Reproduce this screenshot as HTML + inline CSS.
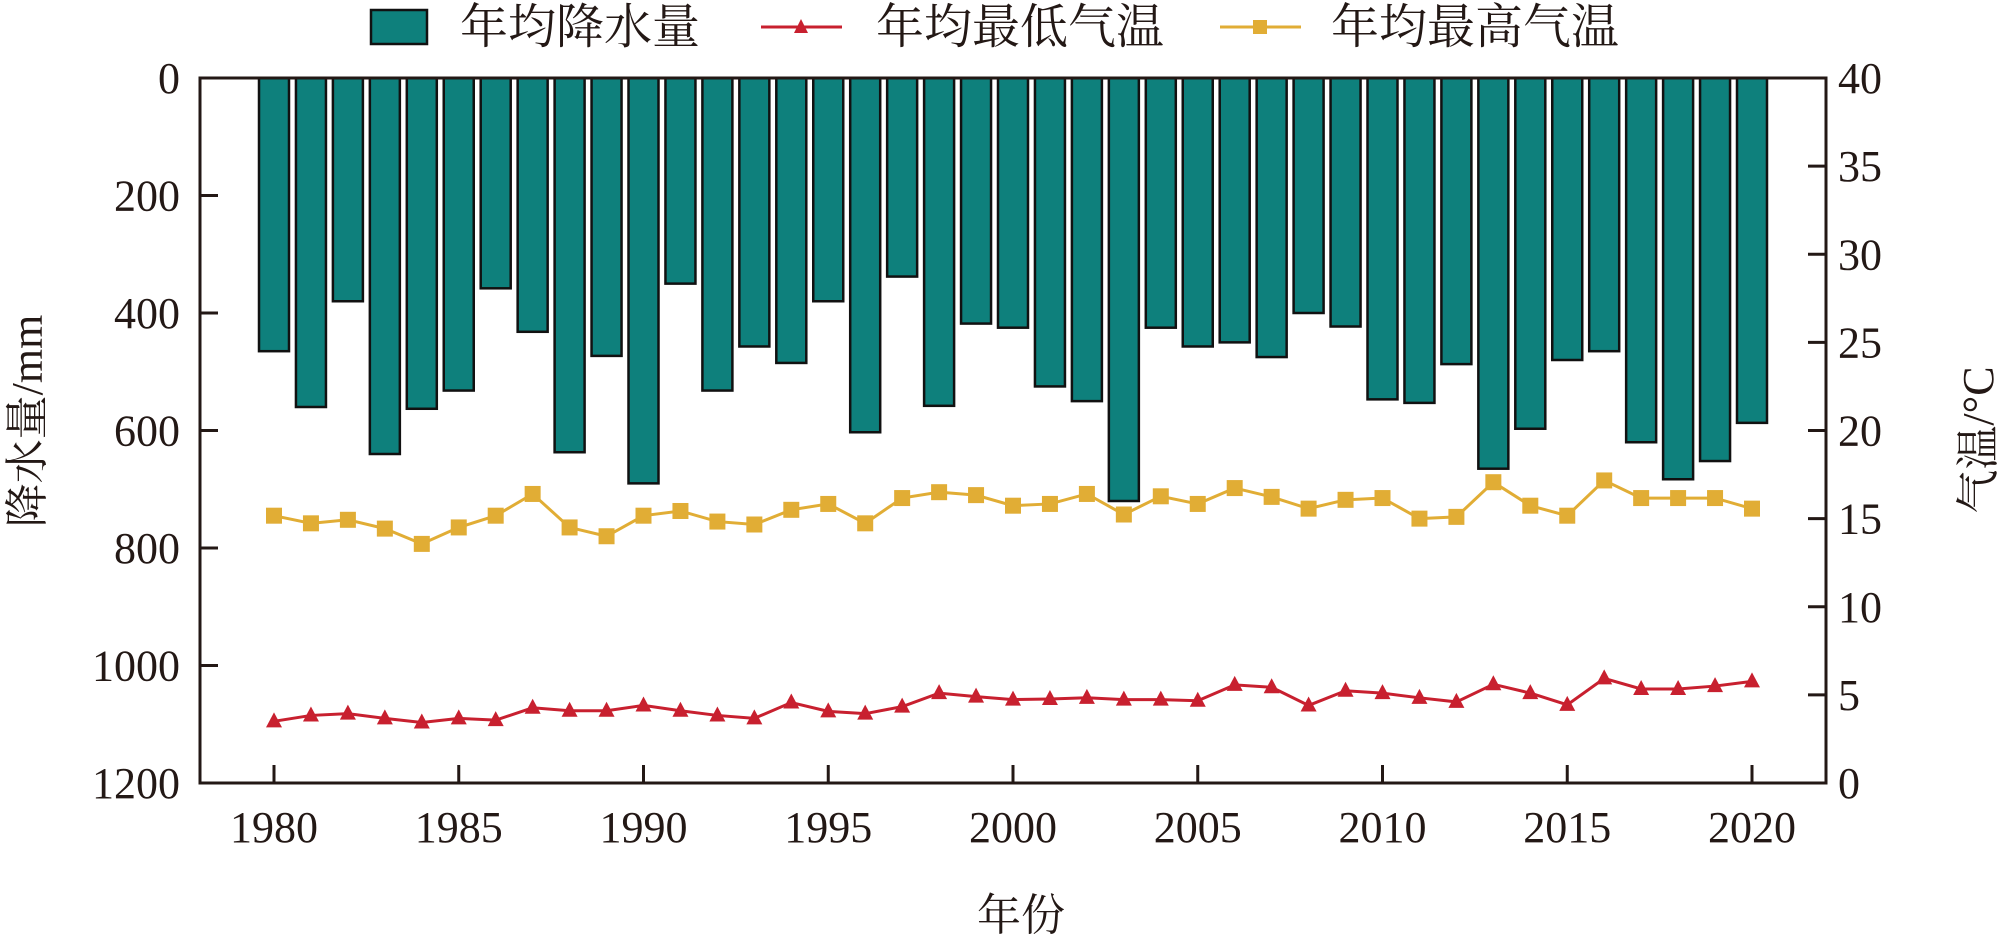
<!DOCTYPE html>
<html><head><meta charset="utf-8"><style>
html,body{margin:0;padding:0;background:#fff;}
svg{display:block;}
text{font-family:"Liberation Serif","Noto Serif CJK SC","Noto Sans CJK SC",serif;fill:#231815;}
</style></head><body>
<svg id="c" width="2000" height="937" xmlns="http://www.w3.org/2000/svg"></svg>
<script>
const s=document.getElementById('c');
const ns='http://www.w3.org/2000/svg';
function el(t,a,txt){const e=document.createElementNS(ns,t);for(const k in a)e.setAttribute(k,a[k]);if(txt!==undefined)e.textContent=txt;s.appendChild(e);return e;}
const L=200,R=1826,T=78,B=783;
const X=y=>274+(y-1980)*(1752-274)/40;
const Y=v=>T+v*(B-T)/1200;
const rain=[465,560,380,640,563,532,358,432,637,473,690,350,532,457,485,380,603,338,558,418,425,525,550,720,425,457,450,475,400,423,547,553,487,665,597,480,465,620,683,652,587];
const mx=[745,758,752,767,793,765,745,708,765,780,745,737,755,760,735,725,758,715,705,710,728,725,708,743,712,725,698,713,733,718,715,750,747,688,728,745,685,715,715,715,733];
const mn=[1095,1085,1082,1090,1097,1090,1093,1072,1077,1077,1068,1077,1085,1090,1063,1078,1082,1070,1047,1053,1058,1057,1055,1058,1058,1060,1033,1037,1068,1043,1047,1055,1062,1032,1047,1067,1022,1040,1040,1035,1027];
rain.forEach((v,i)=>{const x=X(1980+i);el('rect',{x:x-15,y:T,width:30,height:Y(v)-T,fill:'#0e807c',stroke:'#111','stroke-width':2.5});});
function line(d,c,mk){el('polyline',{points:d.map((v,i)=>X(1980+i)+','+Y(v)).join(' '),fill:'none',stroke:c,'stroke-width':3});
d.forEach((v,i)=>{const x=X(1980+i),y=Y(v);if(mk=='t')el('polygon',{points:`${x},${y-9} ${x-8},${y+6} ${x+8},${y+6}`,fill:c});else el('rect',{x:x-8,y:y-8,width:16,height:16,fill:c});});}
line(mx,'#e1ad35','s');line(mn,'#c8202f','t');
el('rect',{x:L,y:T,width:R-L,height:B-T,fill:'none',stroke:'#231815','stroke-width':3});
for(let v=0;v<=1200;v+=200){const y=Y(v);el('line',{x1:L,y1:y,x2:L+18,y2:y,stroke:'#231815','stroke-width':3});el('text',{x:180,y:y+15,'font-size':44,'text-anchor':'end'},v);}
for(let t=0;t<=40;t+=5){const y=B-t*(B-T)/40;el('line',{x1:R,y1:y,x2:R-18,y2:y,stroke:'#231815','stroke-width':3});el('text',{x:1838,y:y+15,'font-size':44},t);}
for(let yr=1980;yr<=2020;yr+=5){const x=X(yr);el('line',{x1:x,y1:B,x2:x,y2:B-18,stroke:'#231815','stroke-width':3});el('text',{x:x,y:842,'font-size':44,'text-anchor':'middle'},yr);}
el('text',{x:1021,y:930,'font-size':44,'text-anchor':'middle'},'年份');
el('text',{x:0,y:0,'font-size':44,'text-anchor':'middle',transform:'translate(42,421) rotate(-90)'},'降水量/mm');
el('text',{x:0,y:0,'font-size':44,'text-anchor':'middle',transform:'translate(1993,440) rotate(-90)'},'气温/°C');
el('rect',{x:371,y:10,width:56,height:34,fill:'#0e807c',stroke:'#111','stroke-width':2.5});
el('text',{x:460,y:43,'font-size':48},'年均降水量');
el('line',{x1:761,y1:27,x2:842,y2:27,stroke:'#c8202f','stroke-width':3});
el('polygon',{points:'801,19 794,33 808,33',fill:'#c8202f'});
el('text',{x:876,y:43,'font-size':48},'年均最低气温');
el('line',{x1:1220,y1:27,x2:1301,y2:27,stroke:'#e1ad35','stroke-width':3});
el('rect',{x:1253,y:20,width:14,height:14,fill:'#e1ad35'});
el('text',{x:1331,y:43,'font-size':48},'年均最高气温');
</script>
</body></html>
